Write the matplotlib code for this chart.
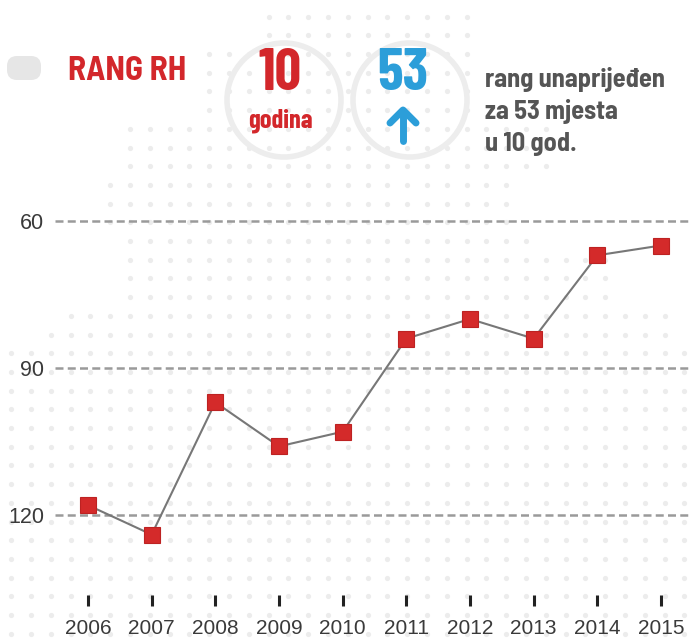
import numpy as np
import matplotlib
matplotlib.use("Agg")
import matplotlib.pyplot as plt
from matplotlib.patches import Circle, FancyBboxPatch

# ---- data ----
years = [2006, 2007, 2008, 2009, 2010, 2011, 2012, 2013, 2014, 2015]
rank = [118, 124, 97, 106, 103, 84, 80, 84, 67, 65]
yticks = [60, 90, 120]
title = "RANG RH"
big_left = "10"
big_left_sub = "godina"
big_right = "53"
note_lines = ["rang unaprijeđen", "za 53 mjesta", "u 10 god."]

W, H = 691, 642
fig = plt.figure(figsize=(W / 100, H / 100), dpi=100)
fig.patch.set_facecolor("white")

RED = "#d3272b"
BLUE = "#2c9ed9"
COND = ["Barlow Condensed", "DejaVu Sans"]
SEMI = ["Barlow Semi Condensed", "DejaVu Sans"]

# ---- decorative background (pixel coordinates) ----
bg = fig.add_axes([0, 0, 1, 1])
bg.set_xlim(0, W)
bg.set_ylim(H, 0)
bg.axis("off")

xs = np.arange(130 - 19.8 * 7, W + 5, 19.8)
rows = np.arange(241 - 18.7 * 12, H + 5, 18.7)
extent = [
    (0, 40, 255, 470),
    (40, 120, 200, 480),
    (120, 175, 130, 560),
    (175, 230, 110, 510),
    (230, 250, 130, 535),
    (250, 305, 130, 618),
    (305, 325, 60, 666),
    (325, 345, 42, 666),
    (345, 700, -5, 700),
]
px, py = [], []
for yy in rows:
    for (y0, y1, x0, x1) in extent:
        if y0 <= yy < y1:
            for xx in xs:
                if x0 <= xx <= x1:
                    px.append(xx)
                    py.append(yy)
bg.scatter(px, py, s=14, color="#ececec", linewidths=0, zorder=0)

# rings behind the big numbers
for cx in (284, 410):
    bg.add_patch(Circle((cx, 100), 57, fill=False, lw=4, ec="#ededed", zorder=1))
# grey tab at left
bg.add_patch(FancyBboxPatch((7, 56), 34, 24, boxstyle="round,pad=0,rounding_size=10",
                            fc="#e6e6e6", ec="none", zorder=1))
# blue up arrow (stroked)
ax_kw = dict(color=BLUE, lw=5, solid_capstyle="round", solid_joinstyle="round", zorder=3)
bg.plot([403, 403], [141, 112], **ax_kw)
bg.plot([390, 403, 416], [123, 110, 123], **ax_kw)

fig.text(68 / W, 1 - 71 / H, title, color=RED, fontsize=24, fontweight="bold",
         family=SEMI, fontstretch="semi-condensed", va="center", ha="left")
fig.text(280 / W, 1 - 74 / H, big_left, color=RED, fontsize=42, fontweight="bold",
         family=COND, fontstretch="condensed", va="center", ha="center")
fig.text(280 / W, 1 - 121 / H, big_left_sub, color=RED, fontsize=19, fontweight="bold",
         family=COND, fontstretch="condensed", va="center", ha="center")
fig.text(403 / W, 1 - 74 / H, big_right, color=BLUE, fontsize=42, fontweight="bold",
         family=COND, fontstretch="condensed", va="center", ha="center")
for i, line in enumerate(note_lines):
    fig.text(485 / W, 1 - (80 + 32 * i) / H, line, color="#555555", fontsize=19,
             fontweight="bold", family=SEMI, fontstretch="semi-condensed",
             va="center", ha="left")

# ---- main chart ----
left_px, right_px, top_px, bot_px = 55, 691, 200, 595
ax = fig.add_axes([left_px / W, 1 - bot_px / H, (right_px - left_px) / W, (bot_px - top_px) / H])
ax.patch.set_alpha(0)
px_per_year = (661 - 88) / 9
ax.set_xlim(2006 - (88 - left_px) / px_per_year, 2015 + (right_px - 661) / px_per_year)
px_per_rank = (515 - 221) / 60
ax.set_ylim(120 + (bot_px - 515) / px_per_rank, 60 - (221 - top_px) / px_per_rank)

for v in yticks:
    ax.axhline(v, color="#9a9a9a", lw=1.8, ls=(0, (3.2, 1.7)), zorder=1)

ax.plot(years, rank, color="#777777", lw=1.5, zorder=2)
ax.plot(years, rank, ls="none", marker="s", ms=11.5, mfc="#d42a2a", mec="#bd2222",
        mew=0.8, zorder=3)

for s in ax.spines.values():
    s.set_visible(False)
ax.set_xticks(years)
ax.set_xticklabels([str(y) for y in years])
ax.set_yticks(yticks)
ax.set_yticklabels([str(v) for v in yticks])
ax.tick_params(axis="x", direction="out", length=8, width=2.2, color="#222222",
               pad=9, labelsize=15, labelcolor="#3a3a3a")
ax.tick_params(axis="y", length=0, pad=8, labelsize=15.5, labelcolor="#3a3a3a")
for lab in ax.get_xticklabels() + ax.get_yticklabels():
    lab.set_family(["Liberation Sans", "DejaVu Sans"])

fig.savefig("out.png", dpi=100)
